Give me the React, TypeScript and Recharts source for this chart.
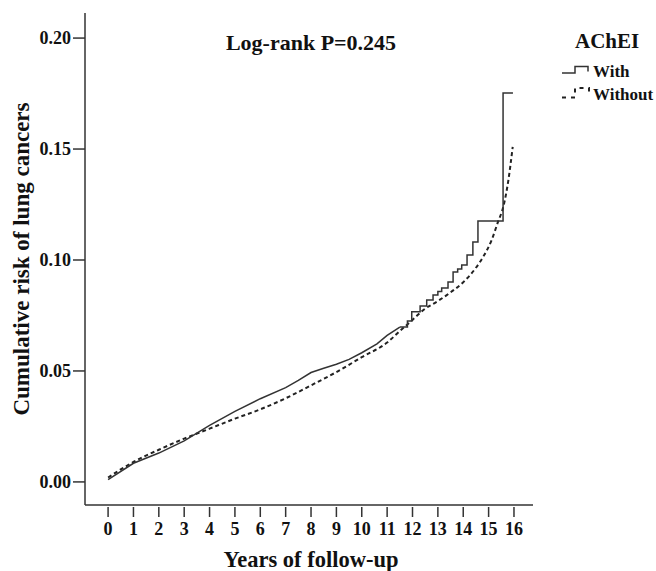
import React from 'react';
import { LineChart, Line, XAxis, YAxis } from 'recharts';

// AChEI users: smooth part of the curve, then the late staircase
const withYears = [0, 1, 2, 3, 4, 5, 6, 7, 7.5, 8, 8.5, 9, 9.5, 10, 10.6, 11, 11.5];
const withRisk = [0.001, 0.0084, 0.013, 0.0185, 0.0255, 0.0318, 0.0375, 0.0425, 0.0458, 0.0493, 0.0512, 0.053, 0.0552, 0.0582, 0.0622, 0.066, 0.0698];
const withStepYears = [11.5, 11.8, 11.97, 12.3, 12.56, 12.81, 13.0, 13.15, 13.4, 13.6, 13.78, 13.94, 14.15, 14.38, 14.58, 15.57, 15.96];
const withStepRisk = [0.0698, 0.0725, 0.0767, 0.0793, 0.082, 0.0842, 0.0858, 0.0874, 0.0901, 0.0946, 0.096, 0.0977, 0.1023, 0.1081, 0.1176, 0.1752, 0.1752];

// non-users
const withoutYears = [0, 1, 2, 3, 4, 5, 6, 7, 8, 9, 10, 11, 11.5, 12, 12.43, 13, 13.35, 14, 14.27, 14.5, 14.79, 15.12, 15.38, 15.58, 15.78, 15.95];
const withoutRisk = [0.002, 0.009, 0.0145, 0.0195, 0.024, 0.0285, 0.0327, 0.0377, 0.0435, 0.0495, 0.0562, 0.0628, 0.068, 0.073, 0.0775, 0.0815, 0.0842, 0.09, 0.0932, 0.0965, 0.1015, 0.109, 0.1175, 0.124, 0.136, 0.151];

const xTicks = [0, 1, 2, 3, 4, 5, 6, 7, 8, 9, 10, 11, 12, 13, 14, 15, 16];
const yTicks = [0, 0.05, 0.1, 0.15, 0.2];

const FONT = "'Liberation Serif', 'Times New Roman', Times, serif";
const textStyle = { fontFamily: FONT, fontWeight: 700 };

const toPoints = (xs: number[], ys: number[]) => xs.map((x, i) => ({ x, y: ys[i] }));

const XTick = ({ x, y, payload }: any) => (
  <g>
    <line x1={x} x2={x} y1={y + 2} y2={y + 12} stroke="#333" strokeWidth={1.5} />
    <text x={x} y={y + 30} textAnchor="middle" fontSize={18} style={textStyle} fill="#111">
      {payload.value}
    </text>
  </g>
);

const YTick = ({ x, y, payload }: any) => (
  <text x={x} y={y + 6} textAnchor="end" fontSize={18} style={textStyle} fill="#111">
    {payload.value.toFixed(2)}
  </text>
);

export default function App() {
  const withData = toPoints(withYears, withRisk);
  const withSteps = toPoints(withStepYears, withStepRisk);
  const withoutData = toPoints(withoutYears, withoutRisk);

  return (
    <div style={{ position: 'relative', width: 656, height: 571, background: '#fff', fontFamily: FONT }}>
      <style>{'body{margin:0}'}</style>
      <LineChart width={656} height={571} margin={{ top: 13, right: 123, bottom: 0, left: 0 }}>
        <XAxis
          type="number"
          dataKey="x"
          domain={[-0.91, 16.75]}
          ticks={xTicks}
          allowDataOverflow
          height={66}
          tickSize={0}
          tickMargin={0}
          tickLine={false}
          tick={<XTick />}
          stroke="#333"
          strokeWidth={1.5}
          interval={0}
        />
        <YAxis
          type="number"
          dataKey="y"
          domain={[-0.0104, 0.2113]}
          ticks={yTicks}
          allowDataOverflow
          width={85}
          tickSize={12}
          tickMargin={2}
          tick={<YTick />}
          stroke="#333"
          strokeWidth={1.5}
          interval={0}
        />
        <Line data={withoutData} dataKey="y" type="monotone" stroke="#222" strokeWidth={2} strokeDasharray="4 3" dot={false} isAnimationActive={false} />
        <Line data={withData} dataKey="y" type="linear" stroke="#333" strokeWidth={1.5} dot={false} isAnimationActive={false} />
        <Line data={withSteps} dataKey="y" type="stepAfter" stroke="#333" strokeWidth={1.5} dot={false} isAnimationActive={false} />
      </LineChart>
      <svg width={656} height={571} style={{ position: 'absolute', left: 0, top: 0, pointerEvents: 'none' }} fill="#111">
        <text x={311} y={50} textAnchor="middle" fontSize={22} style={textStyle}>Log-rank P=0.245</text>
        <text transform="translate(29,259) rotate(-90)" textAnchor="middle" fontSize={23} style={textStyle}>Cumulative risk of lung cancers</text>
        <text x={311} y={567} textAnchor="middle" fontSize={22.5} style={textStyle}>Years of follow-up</text>
        <text x={575} y={48} fontSize={21} style={textStyle}>AChEI</text>
        <path d="M562,73 H575 V66.5 H588 V71.5" fill="none" stroke="#333" strokeWidth={1.5} />
        <text x={593} y={77} fontSize={17} style={textStyle}>With</text>
        <path d="M562,97.5 H575 V88 H589 V93" fill="none" stroke="#222" strokeWidth={2} strokeDasharray="4 5" />
        <text x={593} y={100} fontSize={17} style={textStyle}>Without</text>
      </svg>
    </div>
  );
}
